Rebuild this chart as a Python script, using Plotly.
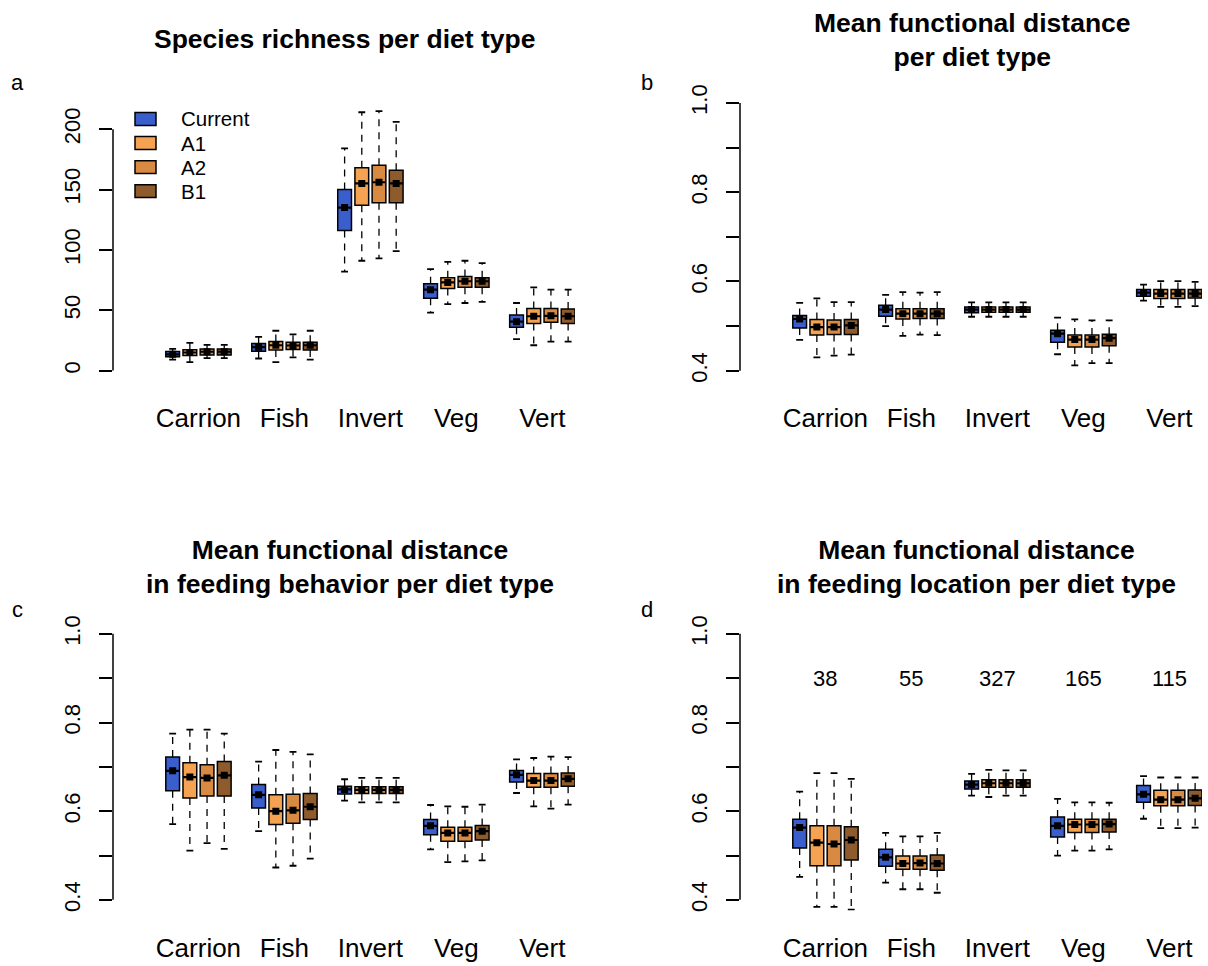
import plotly.graph_objects as go

# ---------------- data ----------------
categories = ["Carrion", "Fish", "Invert", "Veg", "Vert"]
scenarios = ["Current", "A1", "A2", "B1"]
colors = ["#3A5FCD", "#F5A352", "#D98A42", "#8E5B2C"]

# each tuple: (lower whisker, Q1, median, Q3, upper whisker) per category
rich_current = [(9, 11.5, 13.5, 15.8, 18), (10, 16, 19.4, 22.4, 28), (82, 116, 135, 150, 184),
                (48, 60, 67, 72, 84), (26, 36, 40.5, 46, 56)]
rich_a1 = [(7, 12.6, 15, 17.2, 23), (7, 17, 21, 24, 33), (91, 137, 155, 168, 214),
           (55, 68, 73, 77, 90), (21, 39, 45, 51.5, 69)]
rich_a2 = [(10.4, 13, 15.6, 17.8, 21.3), (11, 17.5, 20.8, 23.5, 30), (93, 139, 156, 170, 215),
           (56, 69, 74, 78, 91), (24, 40, 45.4, 51.5, 67)]
rich_b1 = [(10.4, 13, 15.6, 17.8, 21.3), (9, 17, 21, 23.5, 33), (99, 139, 155, 166, 206),
           (57, 69, 74, 77, 89), (24, 39, 45, 51, 67)]

mfd_current = [(0.469, 0.496, 0.516, 0.524, 0.552), (0.500, 0.522, 0.537, 0.547, 0.570),
               (0.521, 0.530, 0.537, 0.543, 0.553), (0.437, 0.464, 0.483, 0.491, 0.519),
               (0.557, 0.567, 0.575, 0.582, 0.593)]
mfd_a1 = [(0.430, 0.480, 0.498, 0.515, 0.562), (0.478, 0.516, 0.528, 0.539, 0.576),
          (0.521, 0.531, 0.537, 0.543, 0.553), (0.412, 0.453, 0.470, 0.480, 0.515),
          (0.543, 0.562, 0.573, 0.582, 0.601)]
mfd_a2 = [(0.434, 0.481, 0.498, 0.514, 0.554), (0.481, 0.517, 0.528, 0.539, 0.575),
          (0.521, 0.531, 0.537, 0.543, 0.553), (0.417, 0.453, 0.470, 0.480, 0.513),
          (0.543, 0.562, 0.573, 0.582, 0.601)]
mfd_b1 = [(0.436, 0.481, 0.5015, 0.515, 0.554), (0.480, 0.517, 0.528, 0.539, 0.576),
          (0.521, 0.531, 0.537, 0.543, 0.553), (0.417, 0.456, 0.473, 0.482, 0.513),
          (0.545, 0.563, 0.573, 0.582, 0.599)]

beh_current = [(0.571, 0.646, 0.691, 0.722, 0.775), (0.555, 0.607, 0.637, 0.660, 0.712),
               (0.624, 0.639, 0.649, 0.656, 0.672), (0.514, 0.547, 0.567, 0.581, 0.614),
               (0.641, 0.666, 0.682, 0.692, 0.717)]
beh_a1 = [(0.511, 0.630, 0.677, 0.709, 0.784), (0.473, 0.570, 0.600, 0.637, 0.738),
          (0.620, 0.640, 0.648, 0.655, 0.675), (0.485, 0.532, 0.551, 0.564, 0.611),
          (0.611, 0.654, 0.669, 0.685, 0.720)]
beh_a2 = [(0.528, 0.634, 0.675, 0.705, 0.784), (0.477, 0.573, 0.602, 0.638, 0.734),
          (0.620, 0.640, 0.648, 0.655, 0.675), (0.487, 0.532, 0.551, 0.564, 0.610),
          (0.606, 0.654, 0.669, 0.685, 0.723)]
beh_b1 = [(0.515, 0.634, 0.681, 0.712, 0.775), (0.493, 0.581, 0.610, 0.640, 0.728),
          (0.620, 0.640, 0.648, 0.655, 0.675), (0.489, 0.535, 0.555, 0.568, 0.615),
          (0.615, 0.656, 0.673, 0.686, 0.722)]

loc_current = [(0.452, 0.517, 0.563, 0.582, 0.644), (0.439, 0.476, 0.496, 0.514, 0.551),
               (0.635, 0.650, 0.660, 0.668, 0.684), (0.500, 0.542, 0.567, 0.587, 0.628),
               (0.583, 0.620, 0.638, 0.658, 0.679)]
loc_a1 = [(0.384, 0.477, 0.529, 0.567, 0.686), (0.424, 0.469, 0.482, 0.499, 0.543),
          (0.632, 0.654, 0.663, 0.671, 0.693), (0.511, 0.552, 0.570, 0.582, 0.620),
          (0.562, 0.612, 0.626, 0.647, 0.676)]
loc_a2 = [(0.384, 0.477, 0.526, 0.567, 0.686), (0.424, 0.469, 0.483, 0.499, 0.543),
          (0.635, 0.654, 0.663, 0.671, 0.692), (0.511, 0.552, 0.570, 0.582, 0.620),
          (0.562, 0.612, 0.626, 0.647, 0.676)]
loc_b1 = [(0.378, 0.490, 0.535, 0.565, 0.673), (0.416, 0.467, 0.482, 0.501, 0.551),
          (0.635, 0.654, 0.663, 0.671, 0.692), (0.514, 0.553, 0.571, 0.582, 0.619),
          (0.563, 0.613, 0.629, 0.648, 0.676)]

species_counts = [38, 55, 327, 165, 115]

rich_tickvals = [0, 50, 100, 150, 200]
rich_ticktext = ["0", "50", "100", "150", "200"]
dist_tickvals = [0.4, 0.5, 0.6, 0.7, 0.8, 0.9, 1.0]
dist_ticktext = ["0.4", "", "0.6", "", "0.8", "", "1.0"]

titles = ["Species richness per diet type",
          "Mean functional distance<br>per diet type",
          "Mean functional distance<br>in feeding behavior per diet type",
          "Mean functional distance<br>in feeding location per diet type"]
panel_letters = ["a", "b", "c", "d"]

# ---------------- layout geometry (pixels) ----------------
W, H = 1208, 966
FONT = "Liberation Sans, Arial, sans-serif"

panels = [
    dict(data=[rich_current, rich_a1, rich_a2, rich_b1], xpx=(113, 575), ypx=(85, 377),
         yrange=(-9.03, 230.6), tv=rich_tickvals, tt=rich_ticktext,
         title_xy=(344, 31), letter_xy=(17, 75)),
    dict(data=[mfd_current, mfd_a1, mfd_a2, mfd_b1], xpx=(740, 1202), ypx=(85, 377),
         yrange=(0.376, 1.024), tv=dist_tickvals, tt=dist_ticktext,
         title_xy=(972, 32), letter_xy=(647, 75)),
    dict(data=[beh_current, beh_a1, beh_a2, beh_b1], xpx=(113, 575), ypx=(621, 911),
         yrange=(0.376, 1.024), tv=dist_tickvals, tt=dist_ticktext,
         title_xy=(350, 564), letter_xy=(17, 607)),
    dict(data=[loc_current, loc_a1, loc_a2, loc_b1], xpx=(740, 1202), ypx=(621, 911),
         yrange=(0.376, 1.024), tv=dist_tickvals, tt=dist_ticktext,
         title_xy=(976, 564), letter_xy=(647, 607)),
]

BOXW = 0.8
CAPW = 0.4

fig = go.Figure()
layout = dict(
    width=W, height=H, margin=dict(l=0, r=0, t=0, b=0),
    paper_bgcolor="white", plot_bgcolor="white",
    barmode="overlay", showlegend=False,
    font=dict(family=FONT, color="black"),
)
shapes = []
annotations = []
group_centers = [1 + 5 * g + 1.5 for g in range(len(categories))]

for i, p in enumerate(panels):
    n = "" if i == 0 else str(i + 1)
    xa, ya = "x" + n, "y" + n
    for s, (series, col, name) in enumerate(zip(p["data"], colors, scenarios)):
        pos = [1 + 5 * g + s for g in range(len(categories))]
        lo = [v[0] for v in series]
        q1 = [v[1] for v in series]
        med = [v[2] for v in series]
        q3 = [v[3] for v in series]
        hi = [v[4] for v in series]
        # box body
        fig.add_trace(go.Bar(
            x=pos, y=[b - a for a, b in zip(q1, q3)], base=q1, width=BOXW,
            marker=dict(color=col, line=dict(color="black", width=1.5)),
            name=name, showlegend=False,
            xaxis=xa, yaxis=ya, hoverinfo="skip"))
        # dashed whiskers
        wx, wy = [], []
        for xp, a, b, c, d in zip(pos, lo, q1, q3, hi):
            wx += [xp, xp, None, xp, xp, None]
            wy += [c, d, None, b, a, None]
        fig.add_trace(go.Scatter(x=wx, y=wy, mode="lines",
                                 line=dict(color="black", width=1.3, dash="7px,6px"),
                                 showlegend=False, xaxis=xa, yaxis=ya, hoverinfo="skip"))
        # staples
        cx, cy = [], []
        for xp, a, d in zip(pos, lo, hi):
            cx += [xp - CAPW / 2, xp + CAPW / 2, None, xp - CAPW / 2, xp + CAPW / 2, None]
            cy += [d, d, None, a, a, None]
        fig.add_trace(go.Scatter(x=cx, y=cy, mode="lines",
                                 line=dict(color="black", width=1.8),
                                 showlegend=False, xaxis=xa, yaxis=ya, hoverinfo="skip"))
        # medians
        mx, my = [], []
        for xp, m in zip(pos, med):
            mx += [xp - BOXW / 2, xp + BOXW / 2, None]
            my += [m, m, None]
        fig.add_trace(go.Scatter(x=mx, y=my, mode="lines",
                                 line=dict(color="black", width=2.2),
                                 showlegend=False, xaxis=xa, yaxis=ya, hoverinfo="skip"))
        fig.add_trace(go.Scatter(x=pos, y=med, mode="markers",
                                 marker=dict(symbol="square", size=7, color="black"),
                                 showlegend=False, xaxis=xa, yaxis=ya, hoverinfo="skip"))

    x0, x1 = p["xpx"]
    y0, y1 = p["ypx"]
    layout["xaxis" + n] = dict(
        domain=[x0 / W, x1 / W], range=[-2.47, 24.4], anchor=ya,
        showgrid=False, zeroline=False, showline=False,
        tickmode="array", tickvals=group_centers, ticktext=categories,
        ticks="", ticklabelstandoff=19,
        tickfont=dict(size=26, family=FONT, color="black"), fixedrange=True)
    layout["yaxis" + n] = dict(
        domain=[1 - y1 / H, 1 - y0 / H], range=list(p["yrange"]), anchor=xa,
        showgrid=False, zeroline=False, showline=False,
        tickmode="array", tickvals=p["tv"], ticktext=p["tt"],
        ticks="outside", ticklen=13, tickwidth=1.5, tickcolor="black",
        tickangle=-90, ticklabelstandoff=10,
        tickfont=dict(size=22, family=FONT, color="black"), fixedrange=True)
    # R-style axis line spanning the tick range
    shapes.append(dict(type="line", xref=xa + " domain", yref=ya,
                       x0=0, x1=0, y0=p["tv"][0], y1=p["tv"][-1],
                       line=dict(color="black", width=1.5)))
    tx, ty = p["title_xy"]
    annotations.append(dict(text="<b>" + titles[i].replace("<br>", "</b><br><b>") + "</b>",
                            xref="paper", yref="paper", x=tx / W, y=1 - ty / H,
                            xanchor="center", yanchor="middle", showarrow=False,
                            font=dict(size=26.5, family=FONT, color="black")))
    lx, ly = p["letter_xy"]
    annotations.append(dict(text=panel_letters[i], xref="paper", yref="paper",
                            x=lx / W, y=1 - ly / H, xanchor="center", yanchor="middle",
                            showarrow=False, font=dict(size=22, family=FONT, color="black")))

# species counts in panel d
for gc, cnt in zip(group_centers, species_counts):
    annotations.append(dict(text=str(cnt), xref="x4", yref="y4", x=gc, y=0.9,
                            xanchor="center", yanchor="middle", showarrow=False,
                            font=dict(size=22, family=FONT, color="black")))

# legend drawn R-style (filled keys with black border) in panel a
LEG_X0, LEG_Y0, LEG_DY = 135, 112, 24.3
for k, (name, col) in enumerate(zip(scenarios, colors)):
    yc = LEG_Y0 + k * LEG_DY
    shapes.append(dict(type="rect", xref="paper", yref="paper",
                       x0=LEG_X0 / W, x1=(LEG_X0 + 21) / W,
                       y0=1 - (yc + 6.5) / H, y1=1 - (yc - 6.5) / H,
                       fillcolor=col, line=dict(color="black", width=1.5)))
    annotations.append(dict(text=name, xref="paper", yref="paper",
                            x=179 / W, y=1 - yc / H, xanchor="left", yanchor="middle",
                            showarrow=False, font=dict(size=20.5, family=FONT, color="black")))

layout["shapes"] = shapes
layout["annotations"] = annotations
fig.update_layout(**layout)
fig.write_html("out.html", config={"displayModeBar": False},
               post_script="document.body.style.margin='0';")
